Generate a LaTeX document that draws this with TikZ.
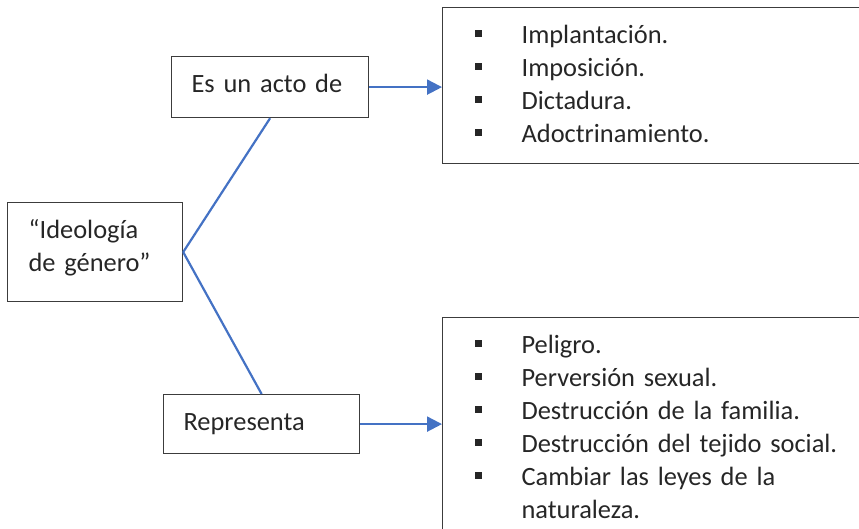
\documentclass[tikz,border=0pt]{standalone}
\usepackage{fontspec}
\setmainfont{Carlito}
\usetikzlibrary{arrows.meta, positioning}
\definecolor{linkblue}{HTML}{4472C4}
\definecolor{ink}{HTML}{262626}
\newcommand{\firstline}{\rule{0pt}{36pt}}
\newcommand{\lastline}[1]{\rule[-#1pt]{0pt}{0pt}}
\newcommand{\blt}{\makebox[47pt][l]{\raisebox{6.5pt}{\rule{7pt}{7pt}}}}

\begin{document}
\begin{tikzpicture}[x=1pt, y=-1pt, font=\fontsize{26.4}{33}\selectfont, text=ink,
    box/.style={draw=ink!90, line width=1.2pt, anchor=north west, align=left, inner ysep=0pt},
    link/.style={draw=linkblue, line width=2.2pt},
    arr/.style={link, -{Triangle[length=15pt, width=15pt]}}]
    \useasboundingbox (0,0) rectangle (859,529);
    \clip (0,0) rectangle (859,529);
    \node[box, inner xsep=21pt, text width=133pt] (ideo) at (7,202)
        {\firstline``Ideología\\de género''\lastline{30}};
    \node[box, inner xsep=20pt, text width=157pt] (acto) at (171,56)
        {\firstline Es un acto de\lastline{25}};
    \node[box, inner xsep=20pt, text width=156pt] (rep) at (163,394)
        {\firstline Representa\lastline{23}};
    \node[box, inner xsep=32pt, text width=394pt] (listA) at (442,7)
        {\firstline\blt Implantación.\\
         \blt Imposición.\\
         \blt Dictadura.\\
         \blt Adoctrinamiento.\lastline{21}};
    \node[box, inner xsep=32pt, text width=394pt] (listB) at (442,317)
        {\firstline\blt Peligro.\\
         \blt Perversión sexual.\\
         \blt Destrucción de la familia.\\
         \blt Destrucción del tejido social.\\
         \blt Cambiar las leyes de la\\
         \hspace*{47pt}naturaleza.\lastline{30}};
    \path[link]
    (ideo.east) edge (acto.south)
    (ideo.east) edge (rep.north);
    \draw[arr] (acto.east) -- (acto.east -| listA.west);
    \draw[arr] (rep.east) -- (rep.east -| listB.west);
\end{tikzpicture}
\end{document}
